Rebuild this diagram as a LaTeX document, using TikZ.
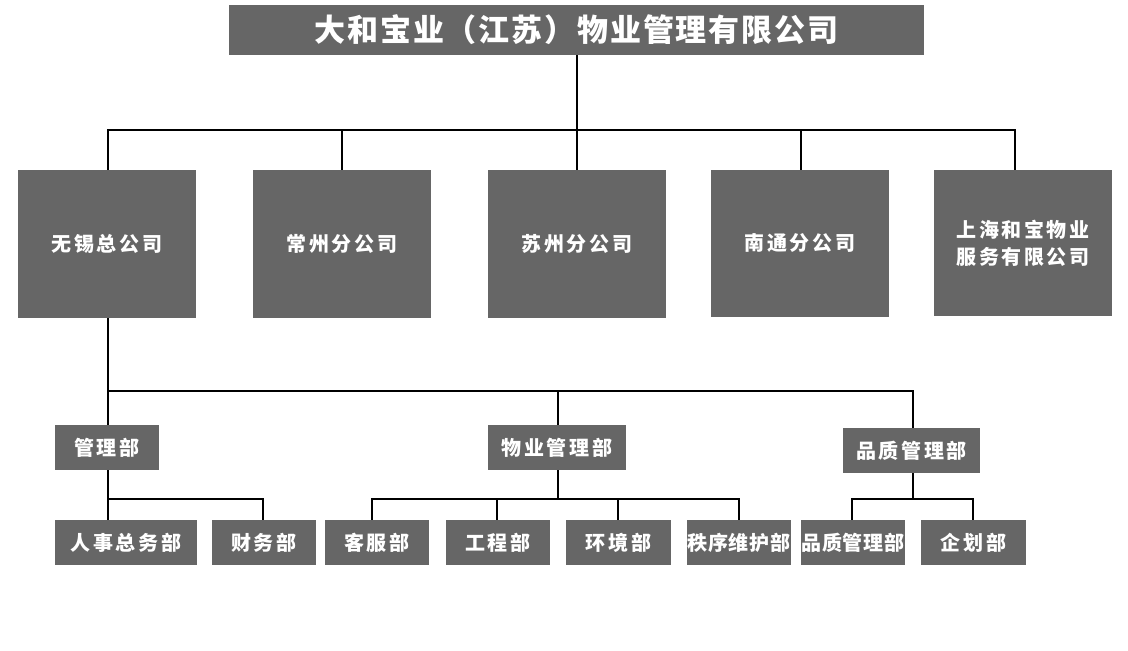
\documentclass[tikz,border=0pt]{standalone}
\usepackage{fontspec}
\newfontfamily\cjkw[LetterSpace=13]{Noto Sans CJK SC}
\newfontfamily\cjkn[LetterSpace=4]{Noto Sans CJK SC}
\newfontfamily\cjkt[LetterSpace=6]{Noto Sans CJK SC}
\definecolor{boxgray}{HTML}{666666}
\tikzset{
  base/.style={fill=boxgray, text=white, inner sep=0pt, align=center},
  titlebox/.style={base, minimum width=695pt, minimum height=50pt, font=\cjkt\bfseries\fontsize{31}{34}\selectfont},
  bigbox/.style={base, minimum width=178pt, minimum height=148pt, font=\cjkw\bfseries\fontsize{20}{27}\selectfont},
  smallbox/.style={base, minimum width=104pt, minimum height=45pt, font=\cjkw\bfseries\fontsize{20}{22}\selectfont},
  tightbox/.style={smallbox, font=\cjkn\bfseries\fontsize{20}{22}\selectfont},
  conn/.style={draw=black, line width=1.3pt},
}
\begin{document}
\begin{tikzpicture}[x=1pt,y=-1pt]
\useasboundingbox (0,0) rectangle (1128,651);
% title
\node[titlebox] (title) at (576.5,30) {大和宝业（江苏）物业管理有限公司};
% level 1
\node[bigbox] (n1) at (107,244) {无锡总公司};
\node[bigbox] (n2) at (342,244) {常州分公司};
\node[bigbox] (n3) at (577,244) {苏州分公司};
\node[bigbox, minimum height=147pt] (n4) at (800,243.5) {南通分公司};
\node[bigbox, minimum height=146pt] (n5) at (1023,243) {上海和宝物业\\服务有限公司};
% level 2
\node[smallbox] (m1) at (107,447.5) {管理部};
\node[smallbox, minimum width=138pt] (m2) at (557,447.5) {物业管理部};
\node[smallbox, minimum width=137pt] (m3) at (911.5,450.5) {品质管理部};
% level 3
\node[smallbox, minimum width=142pt] (p1) at (126,542.5) {人事总务部};
\node[smallbox] (p2) at (264,542.5) {财务部};
\node[smallbox] (p3) at (377,542.5) {客服部};
\node[smallbox] (p4) at (498,542.5) {工程部};
\node[smallbox, minimum width=105pt] (p5) at (618.5,542.5) {环境部};
\node[tightbox] (p6) at (739,542.5) {秩序维护部};
\node[tightbox] (p7) at (853,542.5) {品质管理部};
\node[smallbox, minimum width=105pt] (p8) at (973.5,542.5) {企划部};
% buses
\coordinate (b1) at (577,130);
\coordinate (b2) at (108,391);
\coordinate (b3a) at (108,499);
\coordinate (b3b) at (558,499);
\coordinate (b3c) at (913,499);
% connectors level 0-1
\draw[conn] ([xshift=0.5pt]title.south) -- (b1);
\draw[conn] ([xshift=1pt]n1.north) |- ([xshift=-8pt]n5.north |- b1) -- ([xshift=-8pt]n5.north);
\draw[conn] (n2.north) -- (n2.north |- b1);
\draw[conn] (n3.north) -- (n3.north |- b1);
\draw[conn] ([xshift=1pt]n4.north) -- ([xshift=1pt]n4.north |- b1);
% level 1-2
\draw[conn] ([xshift=1pt]n1.south) -- ([xshift=1pt]m1.north);
\draw[conn] (b2) -- ([xshift=1.5pt]m3.north |- b2) -- ([xshift=1.5pt]m3.north);
\draw[conn] ([xshift=1pt]m2.north |- b2) -- ([xshift=1pt]m2.north);
% level 2-3 group 1
\draw[conn] ([xshift=1pt]m1.south) -- (p1.north -| b3a);
\draw[conn] (b3a) -| ([xshift=-1pt]p2.north);
% group 2
\draw[conn] ([xshift=1pt]m2.south) -- (b3b);
\draw[conn] ([xshift=-5pt]p3.north) |- (p6.north |- b3b) -- (p6.north);
\draw[conn] ([xshift=-1pt]p4.north) -- ([xshift=-1pt]p4.north |- b3b);
\draw[conn] ([xshift=-0.5pt]p5.north) -- ([xshift=-0.5pt]p5.north |- b3b);
% group 3
\draw[conn] ([xshift=1.5pt]m3.south) -- (b3c);
\draw[conn] ([xshift=-1pt]p7.north) |- ([xshift=-0.5pt]p8.north |- b3c) -- ([xshift=-0.5pt]p8.north);
\end{tikzpicture}
\end{document}
